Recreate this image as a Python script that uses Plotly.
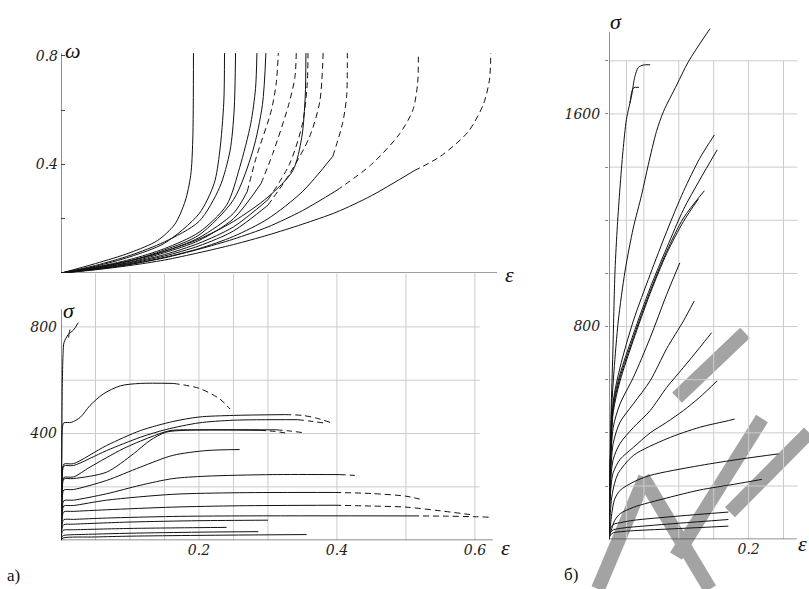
import plotly.graph_objects as go

# ---------------- data: top-left panel, damage omega vs strain eps ----------------
W01 = [(0,0),(0.05,0.035),(0.1,0.075),(0.14,0.12),(0.165,0.18),(0.18,0.265),(0.188,0.36),(0.191,0.49),(0.192,0.81)]
W02 = [(0,0),(0.05,0.025),(0.1,0.06),(0.15,0.11),(0.2,0.218),(0.222,0.33),(0.23,0.446),(0.236,0.63),(0.237,0.81)]
W03 = [(0,0),(0.05,0.028),(0.1,0.065),(0.15,0.115),(0.2,0.19),(0.23,0.316),(0.245,0.45),(0.251,0.6),(0.253,0.81)]
W04 = [(0,0),(0.05,0.022),(0.1,0.05),(0.15,0.09),(0.2,0.15),(0.24,0.25),(0.259,0.389),(0.275,0.55),(0.282,0.68),(0.284,0.81)]
W05 = [(0,0),(0.05,0.02),(0.1,0.045),(0.15,0.085),(0.2,0.14),(0.25,0.27),(0.278,0.45),(0.292,0.62),(0.297,0.81)]
W06 = [(0,0),(0.05,0.02),(0.1,0.045),(0.15,0.08),(0.2,0.13),(0.25,0.22),(0.27,0.3),(0.283,0.426),(0.305,0.6),(0.312,0.7),(0.315,0.81)]
W07 = [(0,0),(0.05,0.018),(0.1,0.04),(0.15,0.075),(0.2,0.12),(0.25,0.2),(0.29,0.33),(0.307,0.44),(0.33,0.62),(0.339,0.72),(0.341,0.81)]
W08 = [(0,0),(0.05,0.02),(0.1,0.045),(0.15,0.08),(0.2,0.125),(0.25,0.19),(0.3,0.28),(0.336,0.377),(0.349,0.5),(0.354,0.65),(0.355,0.81)]
W09 = [(0,0),(0.05,0.016),(0.1,0.038),(0.15,0.068),(0.2,0.11),(0.25,0.17),(0.3,0.27),(0.331,0.4),(0.35,0.55),(0.357,0.7),(0.358,0.81)]
W10 = [(0,0),(0.05,0.015),(0.1,0.035),(0.15,0.063),(0.2,0.1),(0.25,0.155),(0.3,0.25),(0.33,0.36),(0.36,0.5),(0.375,0.63),(0.38,0.81)]
W11 = [(0,0),(0.05,0.014),(0.1,0.032),(0.15,0.058),(0.2,0.09),(0.25,0.135),(0.3,0.2),(0.35,0.3),(0.394,0.43),(0.408,0.55),(0.414,0.65),(0.415,0.81)]
W12 = [(0,0),(0.05,0.014),(0.1,0.032),(0.15,0.056),(0.2,0.088),(0.25,0.125),(0.3,0.17),(0.35,0.23),(0.4,0.305),(0.45,0.4),(0.49,0.51),(0.51,0.6),(0.517,0.7),(0.518,0.81)]
W13 = [(0,0),(0.05,0.012),(0.1,0.028),(0.15,0.048),(0.2,0.075),(0.25,0.105),(0.3,0.14),(0.35,0.18),(0.4,0.225),(0.45,0.285),(0.512,0.377),(0.55,0.43),(0.59,0.52),(0.612,0.62),(0.621,0.71),(0.623,0.81)]
TOP_CURVES = [W01, W02, W03, W04, W05, W06, W07, W08, W09, W10, W11, W12, W13]
TOP_DASH_FROM = [None, None, None, None, None, 6, 6, None, 6, 6, 8, 8, 10]

# ---------------- data: bottom-left panel, stress sigma vs strain eps ----------------
S00 = [(0,0),(0.001,300),(0.002,600),(0.003,700),(0.0043,741),(0.0106,772),(0.018,788),(0.025,816)]
S00b = [(0.011,760),(0.012,778),(0.013,790)]
S01 = [(0,0),(0.001,300),(0.002,420),(0.004,440),(0.015,442),(0.028,461),(0.042,505),(0.061,548),(0.086,579),(0.115,588),(0.163,588),(0.2,570),(0.23,530),(0.245,492)]
S02 = [(0,0),(0.002,250),(0.004,285),(0.018,287),(0.066,355),(0.115,411),(0.162,445),(0.2,462),(0.25,468),(0.325,471),(0.35,468),(0.37,458),(0.39,442)]
S03 = [(0,0),(0.002,240),(0.004,278),(0.018,280),(0.066,336),(0.115,386),(0.152,415),(0.2,440),(0.25,450),(0.343,452),(0.36,447),(0.38,440)]
S04 = [(0,0),(0.002,200),(0.004,235),(0.018,237),(0.042,274),(0.09,343),(0.129,386),(0.158,411),(0.2,414),(0.312,414),(0.33,410),(0.349,404)]
S05 = [(0,0),(0.002,195),(0.004,229),(0.018,231),(0.066,255),(0.105,324),(0.129,374),(0.152,405),(0.18,412),(0.25,413),(0.288,412),(0.31,408),(0.33,400)]
S06 = [(0,0),(0.002,160),(0.004,188),(0.018,190),(0.066,224),(0.115,274),(0.162,318),(0.21,336),(0.259,340)]
S07 = [(0,0),(0.002,120),(0.004,148),(0.018,150),(0.066,174),(0.115,206),(0.162,231),(0.21,240),(0.307,246),(0.404,246),(0.426,243)]
S08 = [(0,0),(0.002,105),(0.004,128),(0.018,130),(0.066,150),(0.162,172),(0.259,178),(0.397,179),(0.45,175),(0.5,165),(0.52,154)]
S09 = [(0,0),(0.002,90),(0.004,106),(0.018,108),(0.066,114),(0.162,124),(0.259,129),(0.397,131),(0.45,128),(0.5,124),(0.55,110),(0.593,96)]
S10 = [(0,0),(0.002,65),(0.004,77),(0.018,78),(0.066,83),(0.162,89),(0.259,91),(0.51,91),(0.56,90),(0.6,88),(0.622,86)]
S11 = [(0,0),(0.002,50),(0.004,58),(0.018,60),(0.1,68),(0.2,73),(0.3,75)]
S12 = [(0,0),(0.002,33),(0.004,38),(0.018,39),(0.1,44),(0.2,47),(0.24,48)]
S13 = [(0,0),(0.002,15),(0.004,18),(0.04,22),(0.1,26),(0.2,30),(0.286,32)]
S14 = [(0,0),(0.003,8),(0.05,12),(0.1,15),(0.2,18),(0.356,21)]
BOT_CURVES = [S00, S00b, S01, S02, S03, S04, S05, S06, S07, S08, S09, S10, S11, S12, S13, S14]
BOT_DASH_FROM = [None, None, 10, 9, 9, 9, 10, None, 9, 7, 7, 7, None, None, None, None]

# ---------------- data: right panel, stress sigma vs strain eps ----------------
R01 = [(0,0),(0.001,200),(0.003,480),(0.0055,700),(0.0086,1009),(0.012,1180),(0.0157,1321),(0.02,1460),(0.025,1580),(0.0325,1671),(0.037,1740),(0.042,1775),(0.049,1784),(0.059,1785)]
R01b = [(0.030,1640),(0.035,1698),(0.043,1700)]
R02 = [(0,0),(0.001,200),(0.0039,496),(0.0072,634),(0.0133,821),(0.023,1009),(0.0348,1171),(0.0468,1296),(0.0563,1409),(0.068,1534),(0.078,1609),(0.097,1709),(0.1136,1796),(0.1447,1921)]
R03 = [(0,0),(0.002,300),(0.0062,521),(0.0158,646),(0.0348,821),(0.059,996),(0.0827,1158),(0.1066,1308),(0.13,1433),(0.151,1521)]
R04 = [(0,0),(0.002,300),(0.0062,509),(0.0158,621),(0.0348,771),(0.059,946),(0.0827,1096),(0.1066,1240),(0.13,1352),(0.155,1465)]
R05 = [(0,0),(0.002,300),(0.0062,496),(0.0158,608),(0.0348,758),(0.059,933),(0.0827,1083),(0.1066,1208),(0.1366,1311)]
R06 = [(0,0),(0.002,290),(0.0062,480),(0.0158,595),(0.0348,748),(0.059,925),(0.0827,1075),(0.1066,1195),(0.128,1280)]
R07 = [(0,0),(0.002,250),(0.006,420),(0.0158,509),(0.0348,608),(0.059,758),(0.0827,921),(0.1015,1040)]
R08 = [(0,0),(0.002,220),(0.006,360),(0.0158,440),(0.0348,509),(0.059,596),(0.0827,717),(0.1066,821),(0.122,896)]
R09 = [(0,0),(0.002,200),(0.006,300),(0.0158,360),(0.0348,420),(0.059,484),(0.0827,571),(0.1066,646),(0.13,721),(0.147,777)]
R10 = [(0,0),(0.002,170),(0.006,250),(0.0158,300),(0.0348,345),(0.059,400),(0.0827,440),(0.1066,484),(0.13,534),(0.155,596)]
R11 = [(0,0),(0.002,100),(0.004,159),(0.008,210),(0.013,247),(0.035,315),(0.083,378),(0.13,421),(0.171,446),(0.18,452)]
R12 = [(0,0),(0.002,50),(0.004,96),(0.008,150),(0.016,184),(0.035,215),(0.059,240),(0.13,277),(0.19,302),(0.243,321)]
R13 = [(0,0),(0.002,25),(0.004,40),(0.008,70),(0.016,96),(0.035,120),(0.083,155),(0.13,185),(0.18,207),(0.219,225)]
R14 = [(0,0),(0.002,40),(0.006,55),(0.02,64),(0.035,71),(0.1,87),(0.171,102)]
R15 = [(0,0),(0.002,25),(0.006,35),(0.02,42),(0.035,46),(0.1,60),(0.171,74)]
R16 = [(0,0),(0.002,15),(0.006,24),(0.02,29),(0.035,32),(0.1,40),(0.171,49)]
RIGHT_CURVES = [R01, R01b, R02, R03, R04, R05, R06, R07, R08, R09, R10, R11, R12, R13, R14, R15, R16]

# ticks / grids
TOP_Y_TICKS = [0.2, 0.4, 0.6, 0.8]
TOP_Y_LABELS = ["", "0.4", "", "0.8"]
BOT_X_GRID = [0.05, 0.1, 0.15, 0.2, 0.25, 0.3, 0.4, 0.5, 0.6]
BOT_Y_GRID = [200, 400, 600, 800]
BOT_X_TICKS = [0.2, 0.4, 0.6]
BOT_Y_TICKS = [400, 800]
R_X_GRID = [0.025, 0.05, 0.1, 0.15, 0.2, 0.25]
R_Y_GRID = [200, 400, 600, 800, 1000, 1200, 1400, 1600, 1800]
R_X_TICKS = [0.2]
R_Y_TICKS = [800, 1600]

W, H = 809, 589
LINE_COLOR = "#111111"
DASH = "6px,4px"
SERIF = "Liberation Serif"
TSERIF = "DejaVu Serif"

fig = go.Figure()


def add_curve(pts, dash_from, xa, ya):
    xs = [p[0] for p in pts]
    ys = [p[1] for p in pts]
    if dash_from is None:
        parts = [(xs, ys, "solid")]
    else:
        parts = [(xs[:dash_from + 1], ys[:dash_from + 1], "solid"),
                 (xs[dash_from:], ys[dash_from:], DASH)]
    for px, py, d in parts:
        fig.add_trace(go.Scatter(x=px, y=py, mode="lines", xaxis=xa, yaxis=ya,
                                 line=dict(color=LINE_COLOR, width=1, dash=d,
                                           shape="spline", smoothing=0.8),
                                 hoverinfo="skip", showlegend=False))


for c, d in zip(TOP_CURVES, TOP_DASH_FROM):
    add_curve(c, d, "x", "y")
for c, d in zip(BOT_CURVES, BOT_DASH_FROM):
    add_curve(c, d, "x2", "y2")
for c in RIGHT_CURVES:
    add_curve(c, None, "x3", "y3")

shapes = []
GRID = dict(color="#cccccc", width=1)
AX = dict(color="#222222", width=1)
for gx in BOT_X_GRID:
    shapes.append(dict(type="line", xref="x2", yref="y2", x0=gx, x1=gx, y0=0, y1=1000, line=GRID, layer="below"))
for gy in BOT_Y_GRID:
    shapes.append(dict(type="line", xref="x2", yref="y2", x0=0, x1=0.607, y0=gy, y1=gy, line=GRID, layer="below"))
for gx in R_X_GRID:
    shapes.append(dict(type="line", xref="x3", yref="y3", x0=gx, x1=gx, y0=0, y1=1800, line=GRID, layer="below"))
for gy in R_Y_GRID:
    shapes.append(dict(type="line", xref="x3", yref="y3", x0=0, x1=0.27, y0=gy, y1=gy, line=GRID, layer="below"))


def pp(px, py):
    return px / W, 1 - py / H


WM = [((598, 589), (645, 477)), ((643, 477), (710, 589)), ((676, 556), (762, 418)),
      ((677, 397), (745, 332)), ((730, 512), (809, 432))]
for (a, b) in WM:
    x0, y0 = pp(*a)
    x1, y1 = pp(*b)
    shapes.append(dict(type="line", xref="paper", yref="paper", x0=x0, y0=y0, x1=x1, y1=y1,
                       line=dict(color="#a3a3a3", width=14), layer="below"))

shapes += [
    dict(type="line", xref="x", yref="y", x0=0, x1=0.632, y0=0, y1=0, line=AX),
    dict(type="line", xref="x", yref="y", x0=0, x1=0, y0=0, y1=0.81, line=AX),
    dict(type="line", xref="x2", yref="y2", x0=0, x1=0.626, y0=0, y1=0, line=AX),
    dict(type="line", xref="x2", yref="y2", x0=0, x1=0, y0=0, y1=867, line=AX),
    dict(type="line", xref="x3", yref="y3", x0=0, x1=0.269, y0=0, y1=0, line=AX),
    dict(type="line", xref="x3", yref="y3", x0=0, x1=0, y0=0, y1=1908, line=AX),
]

TICKFONT = dict(family=TSERIF, size=14, color="#222222")


def it(vals):
    return ["<i>%s</i>" % v if v != "" else "" for v in vals]


def ax(domain, rng, **kw):
    d = dict(domain=domain, range=rng, showgrid=False, zeroline=False, showline=False,
             showticklabels=False, ticks="", fixedrange=True)
    d.update(kw)
    return d


fig.update_layout(
    width=W, height=H, margin=dict(l=0, r=0, t=0, b=0),
    paper_bgcolor="white", plot_bgcolor="rgba(0,0,0,0)", showlegend=False,
    xaxis=ax([61 / W, 497 / W], [0, 0.632], anchor="y"),
    yaxis=ax([1 - 272 / H, 1 - 48 / H], [0, 0.822], anchor="x",
             tickmode="array", tickvals=TOP_Y_TICKS, ticktext=it(TOP_Y_LABELS),
             showticklabels=True, ticks="inside", ticklen=4, tickcolor="#444",
             tickfont=TICKFONT, ticklabelstandoff=2),
    xaxis2=ax([61 / W, 497 / W], [0, 0.632], anchor="y2",
              tickmode="array", tickvals=BOT_X_TICKS, ticktext=it([f"{v:g}" for v in BOT_X_TICKS]),
              showticklabels=True, tickfont=TICKFONT),
    yaxis2=ax([1 - 540 / H, 1 - 272 / H], [0, 1002], anchor="x2",
              tickmode="array", tickvals=BOT_Y_TICKS, ticktext=it([str(v) for v in BOT_Y_TICKS]),
              showticklabels=True, tickfont=TICKFONT, ticklabelstandoff=3),
    xaxis3=ax([609 / W, 1.0], [0, 200 / 698], anchor="y3",
              tickmode="array", tickvals=R_X_TICKS, ticktext=it([f"{v:g}" for v in R_X_TICKS]),
              showticklabels=True, tickfont=TICKFONT),
    yaxis3=ax([1 - 539 / H, 1 - 23 / H], [0, 1935], anchor="x3",
              tickmode="array", tickvals=R_Y_GRID,
              ticktext=it([str(v) if v in R_Y_TICKS else "" for v in R_Y_GRID]),
              showticklabels=True, ticks="outside", ticklen=3, tickcolor="#888",
              tickfont=TICKFONT, ticklabelstandoff=2),
    shapes=shapes,
)

SYM = dict(family=SERIF, size=22, color="#111111")
annos = [
    ("ω", 73, 49), ("ε", 510, 273), ("σ", 69, 310), ("ε", 505, 547), ("σ", 616, 20), ("ε", 802, 543),
]
for t, px, py in annos:
    x, y = pp(px, py)
    fig.add_annotation(text="<i>%s</i>" % t, x=x, y=y, xref="paper", yref="paper", showarrow=False,
                       font=SYM, xanchor="center", yanchor="middle")
for t, px, py in [("a)", 13, 575), ("б)", 571, 574)]:
    x, y = pp(px, py)
    fig.add_annotation(text=t, x=x, y=y, xref="paper", yref="paper", showarrow=False,
                       font=dict(family=SERIF, size=17, color="#111111"), xanchor="center", yanchor="middle")

fig.write_html("out.html", config={"displayModeBar": False},
               post_script="document.body.style.margin='0';document.body.style.overflow='hidden';")
